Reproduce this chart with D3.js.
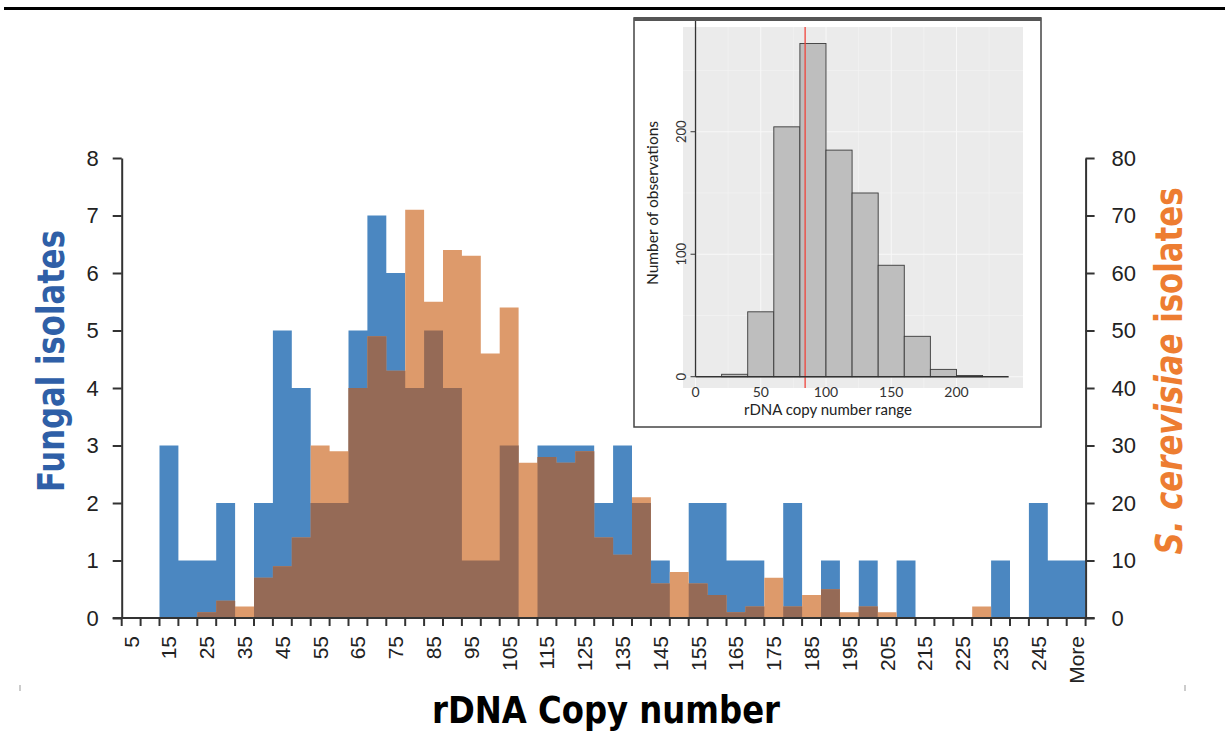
<!DOCTYPE html>
<html>
<head>
<meta charset="utf-8">
<script src="https://cdn.jsdelivr.net/npm/d3@7"></script>
<style>
  body { margin: 0; background: #fff; }
  svg { display: block; }
</style>
</head>
<body>
<div id="chart"></div>
<script>
// main histogram: bins of 5 copies, plus "More"
const bins = ["5","10","15","20","25","30","35","40","45","50","55","60","65","70","75","80","85","90","95","100",
  "105","110","115","120","125","130","135","140","145","150","155","160","165","170","175","180","185","190","195","200",
  "205","210","215","220","225","230","235","240","245","250","More"];
const fungal = [0,0,3,1,1,2,0,2,5,4,2,2,5,7,6,4,5,4,1,1,
  3,0,3,3,3,2,3,2,1,0,2,2,1,1,0,2,0,1,0,1,
  0,1,0,0,0,0,1,0,2,1,1];
const cerevisiae = [0,0,0,0,1,3,2,7,9,14,30,29,40,49,43,71,55,64,63,46,
  54,27,28,27,29,14,11,21,6,8,6,4,1,2,7,2,4,5,1,2,
  1,0,0,0,0,2,0,0,0,0,0];
const leftTicks = [0,1,2,3,4,5,6,7,8];
const rightTicks = [0,10,20,30,40,50,60,70,80];

// inset histogram (bins of 20)
const insetStarts = [20,40,60,80,100,120,140,160,180,200];
const insetCounts = [2,53,204,272,185,150,91,33,6,1];
const insetXTicks = [0,50,100,150,200];
const insetYTicks = [0,100,200];
const insetMedian = 84;

const width = 1225, height = 753;
const svg = d3.select("#chart").append("svg")
  .attr("width", width)
  .attr("height", height);

// top rule
svg.append("rect").attr("x", 4).attr("y", 7).attr("width", width - 4).attr("height", 3).attr("fill", "#000");

const plotLeft = 121.7, plotRight = 1085.6, plotTop = 158, plotBottom = 618;

const x = d3.scaleBand().domain(bins).range([plotLeft, plotRight]).padding(0);
const yL = d3.scaleLinear().domain([0, 8]).range([plotBottom, plotTop]);
const yR = d3.scaleLinear().domain([0, 80]).range([plotBottom, plotTop]);

const rows = bins.map((b, i) => ({ bin: b, i: i, f: fungal[i], s: cerevisiae[i] }));
// step points: one per bin left edge, plus the closing right edge
const steps = rows.map(d => ({ x: x(d.bin), f: d.f, s: d.s }));
steps.push({ x: plotRight, f: fungal[fungal.length - 1], s: cerevisiae[cerevisiae.length - 1] });

const stepArea = yFn => d3.area().curve(d3.curveStepAfter)
  .x(d => d.x).y0(plotBottom).y1(yFn);

const bars = svg.append("g");
bars.append("path").datum(steps).attr("d", stepArea(d => yL(d.f))).attr("fill", "#4b87c1");
bars.append("path").datum(steps).attr("d", stepArea(d => yR(d.s))).attr("fill", "#dd9a6b");
bars.append("path").datum(steps).attr("d", stepArea(d => Math.max(yL(d.f), yR(d.s)))).attr("fill", "#956a56");

const axisColor = "#333";
const tickFont = "'Liberation Sans', Arial, sans-serif";

// left axis
const gl = svg.append("g").attr("transform", `translate(${plotLeft},0)`)
  .call(d3.axisLeft(yL).tickValues(leftTicks).tickSize(9).tickPadding(14).tickSizeOuter(0));
// right axis
const gr = svg.append("g").attr("transform", `translate(${plotRight},0)`)
  .call(d3.axisRight(yR).tickValues(rightTicks).tickSize(9).tickPadding(17).tickSizeOuter(0));
[gl, gr].forEach(g => {
  g.select(".domain").attr("stroke", axisColor).attr("stroke-width", 2);
  g.selectAll(".tick line").attr("stroke", axisColor).attr("stroke-width", 2);
  g.selectAll(".tick text").attr("font-family", tickFont).attr("font-size", 22).attr("fill", "#222");
});

// bottom axis: ticks at bin edges, labels every other bin
const gb = svg.append("g");
gb.append("line").attr("x1", plotLeft - 9).attr("x2", plotRight + 9).attr("y1", plotBottom).attr("y2", plotBottom)
  .attr("stroke", axisColor).attr("stroke-width", 2);
gb.selectAll(".xt").data(steps.map(d => d.x)).enter().append("line")
  .attr("x1", d => d).attr("x2", d => d)
  .attr("y1", plotBottom).attr("y2", plotBottom + 8)
  .attr("stroke", axisColor).attr("stroke-width", 2);
gb.selectAll(".xl").data(rows.filter(d => d.i % 2 === 0)).enter().append("text")
  .attr("transform", d => `translate(${x(d.bin) + x.bandwidth() / 2},${plotBottom + 18}) rotate(-90)`)
  .attr("dy", "0.35em")
  .attr("text-anchor", "end")
  .attr("font-family", tickFont)
  .attr("font-size", 21)
  .attr("fill", "#222")
  .text(d => d.bin);

// axis titles
const titleFont = "'Liberation Sans Narrow', 'DejaVu Sans Condensed', 'Arial Narrow', sans-serif";
svg.append("text")
  .attr("transform", `translate(64,361) rotate(-90)`)
  .attr("text-anchor", "middle")
  .attr("font-family", titleFont).attr("font-weight", "bold").attr("font-size", 37)
  .attr("textLength", 262).attr("lengthAdjust", "spacingAndGlyphs")
  .attr("fill", "#2f5fa7")
  .text("Fungal isolates");

const rt = svg.append("text")
  .attr("transform", `translate(1182,371) rotate(-90)`)
  .attr("text-anchor", "middle")
  .attr("font-family", titleFont).attr("font-weight", "bold").attr("font-size", 37)
  .attr("textLength", 367).attr("lengthAdjust", "spacingAndGlyphs")
  .attr("fill", "#ed7d31");
rt.append("tspan").attr("font-style", "italic").text("S. cerevisiae");
rt.append("tspan").text(" isolates");

svg.append("text")
  .attr("x", 606).attr("y", 723)
  .attr("text-anchor", "middle")
  .attr("font-family", titleFont).attr("font-weight", "bold").attr("font-size", 37)
  .attr("textLength", 348).attr("lengthAdjust", "spacingAndGlyphs")
  .attr("fill", "#000")
  .text("rDNA Copy number");

// stray marks at the bottom corners
svg.append("line").attr("x1", 20).attr("x2", 20).attr("y1", 685).attr("y2", 691).attr("stroke", "#999");
svg.append("line").attr("x1", 1185).attr("x2", 1185).attr("y1", 685).attr("y2", 691).attr("stroke", "#999");

// ---- inset ----
const inset = svg.append("g");
inset.append("rect").attr("x", 634).attr("y", 18).attr("width", 407).attr("height", 409)
  .attr("fill", "#fff").attr("stroke", "#444").attr("stroke-width", 1.5);
inset.append("rect").attr("x", 634).attr("y", 17).attr("width", 407).attr("height", 4).attr("fill", "#555");

const px0 = 683, px1 = 1023, py0 = 27, py1 = 388;
const ix = d3.scaleLinear().domain([-9.6, 251]).range([px0, px1]);
const iy = d3.scaleLinear().domain([-9.2, 285.5]).range([py1, py0]);

inset.append("rect").attr("x", px0).attr("y", py0).attr("width", px1 - px0).attr("height", py1 - py0)
  .attr("fill", "#ebebeb");
// grid
const minorX = insetXTicks.map(v => v + 25);
const minorY = [50, 150, 250];
inset.selectAll(".gxm").data(minorX).enter().append("line")
  .attr("x1", d => ix(d)).attr("x2", d => ix(d)).attr("y1", py0).attr("y2", py1)
  .attr("stroke", "#f3f3f3").attr("stroke-width", 0.6);
inset.selectAll(".gym").data(minorY).enter().append("line")
  .attr("x1", px0).attr("x2", px1).attr("y1", d => iy(d)).attr("y2", d => iy(d))
  .attr("stroke", "#f3f3f3").attr("stroke-width", 0.6);
inset.selectAll(".gx").data(insetXTicks).enter().append("line")
  .attr("x1", d => ix(d)).attr("x2", d => ix(d)).attr("y1", py0).attr("y2", py1)
  .attr("stroke", "#f8f8f8").attr("stroke-width", 1);
inset.selectAll(".gy").data(insetYTicks).enter().append("line")
  .attr("x1", px0).attr("x2", px1).attr("y1", d => iy(d)).attr("y2", d => iy(d))
  .attr("stroke", "#f8f8f8").attr("stroke-width", 1);

// bars
inset.selectAll(".ib").data(insetStarts).enter().append("rect")
  .attr("x", d => ix(d))
  .attr("width", d => ix(d + 20) - ix(d))
  .attr("y", (d, i) => iy(insetCounts[i]))
  .attr("height", (d, i) => iy(0) - iy(insetCounts[i]))
  .attr("fill", "#bebebe").attr("stroke", "#3a3a3a").attr("stroke-width", 0.9);

// median line
inset.append("line").attr("x1", ix(insetMedian)).attr("x2", ix(insetMedian))
  .attr("y1", py0).attr("y2", py1).attr("stroke", "#f0443c").attr("stroke-width", 1.3);

// inset axes
inset.append("line").attr("x1", ix(0)).attr("x2", ix(0)).attr("y1", py0 - 6).attr("y2", iy(0))
  .attr("stroke", "#333").attr("stroke-width", 1.3);
inset.append("line").attr("x1", ix(0)).attr("x2", ix(240)).attr("y1", iy(0)).attr("y2", iy(0))
  .attr("stroke", "#333").attr("stroke-width", 1.3);
inset.selectAll(".iyt").data(insetYTicks).enter().append("line")
  .attr("x1", ix(0) - 5).attr("x2", ix(0)).attr("y1", d => iy(d)).attr("y2", d => iy(d))
  .attr("stroke", "#333");
const insetFont = "Lato, 'Liberation Sans', sans-serif";
inset.selectAll(".iyl").data(insetYTicks).enter().append("text")
  .attr("transform", d => `translate(${ix(0) - 10},${iy(d)}) rotate(-90)`)
  .attr("text-anchor", "middle")
  .attr("font-family", insetFont).attr("font-size", 13).attr("fill", "#333")
  .text(d => d);
inset.selectAll(".ixl").data(insetXTicks).enter().append("text")
  .attr("x", d => ix(d)).attr("y", iy(0) + 20)
  .attr("text-anchor", "middle")
  .attr("font-family", insetFont).attr("font-size", 14).attr("fill", "#333")
  .text(d => d);
inset.append("text")
  .attr("transform", `translate(658,203) rotate(-90)`)
  .attr("text-anchor", "middle")
  .attr("font-family", insetFont).attr("font-size", 15.5).attr("fill", "#222")
  .text("Number of observations");
inset.append("text")
  .attr("x", 828).attr("y", 415)
  .attr("text-anchor", "middle")
  .attr("font-family", insetFont).attr("font-size", 15).attr("fill", "#222")
  .text("rDNA copy number range");
</script>
</body>
</html>
